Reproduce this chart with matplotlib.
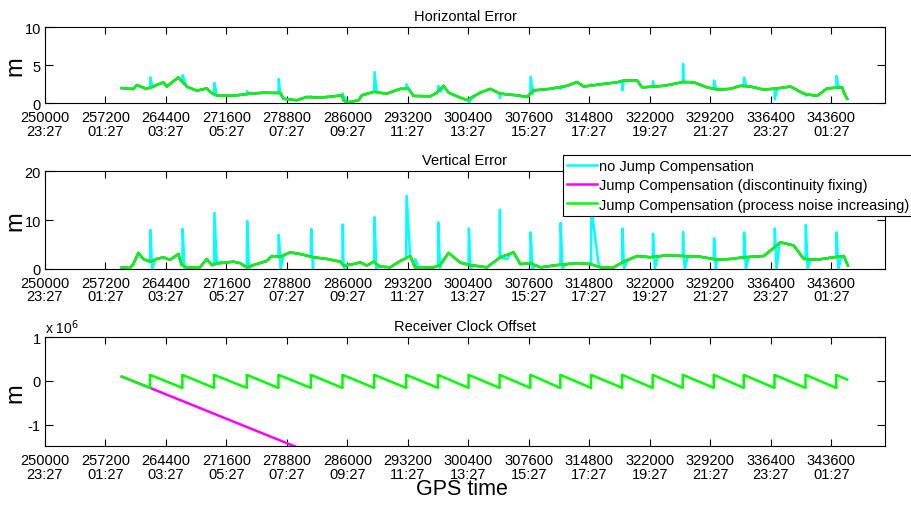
import numpy as np
import matplotlib
matplotlib.use("Agg")
import matplotlib.pyplot as plt

plt.rcParams['font.family'] = ['Liberation Sans', 'DejaVu Sans']

# x ticks (GPS seconds of week + clock time)
xtick_sec = [250000, 257200, 264400, 271600, 278800, 286000, 293200,
             300400, 307600, 314800, 322000, 329200, 336400, 343600]
xtick_clock = ['23:27', '01:27', '03:27', '05:27', '07:27', '09:27', '11:27',
               '13:27', '15:27', '17:27', '19:27', '21:27', '23:27', '01:27']

# times of the 1 ms receiver clock jumps
jump_t = [262509, 266357, 270133, 274029, 277793, 281653, 285417, 289194,
          293006, 296782, 300428, 304121, 307778, 311352, 315009, 318702,
          322347, 325921, 329614, 333188, 336845, 340538, 344196]

# Horizontal error, jump compensated (m)
hz_t = [259140, 260520, 260920, 262110, 263300, 264090, 264500, 265880, 266880,
        268070, 269260, 269660, 270450, 272430, 274420, 276010, 278000, 278390,
        279990, 281180, 282760, 284350, 285340, 285540, 285940, 287330, 287730,
        289120, 290700, 292290, 293280, 293880, 295860, 296660, 297450, 298050,
        299440, 300240, 301820, 303010, 304200, 306190, 307380, 308170, 310160,
        312150, 313340, 314130, 316120, 318100, 318900, 320490, 321080, 322470,
        323660, 326040, 327230, 328820, 330010, 331600, 332790, 333980, 335570,
        337160, 338750, 340340, 341920, 343110, 344900, 345100, 345500]
hz_err = [2.0, 1.88, 2.4, 1.9, 2.4, 2.76, 2.2, 3.4, 2.2, 1.66, 1.96, 1.5, 1.0,
          1.0, 1.26, 1.39, 1.35, 0.6, 0.4, 0.83, 0.74, 0.92, 1.05, 0.4, 0.1,
          0.4, 1.05, 1.5, 1.26, 1.9, 1.9, 0.97, 0.92, 1.39, 2.3, 1.4, 0.74,
          0.43, 1.4, 1.9, 1.26, 1.05, 0.83, 1.7, 1.9, 2.3, 2.8, 2.2, 2.5, 2.76,
          3.0, 3.0, 2.1, 2.2, 2.3, 2.8, 2.76, 2.1, 1.8, 1.9, 2.3, 2.2, 1.8, 1.96,
          2.2, 1.26, 0.97, 1.96, 2.1, 1.4, 0.6]
# no compensation: value reached right after each jump
hz_spike = [3.4, 3.7, 2.7, 1.6, 3.2, 0.9, 1.3, 4.1, 2.5, 2.3, 0.0, 0.7, 3.5,
            1.9, 2.5, 1.7, 2.9, 5.2, 3.0, 3.4, 0.5, 1.0, 3.6]

# Vertical error, jump compensated (m)
vt_t = [259140, 260130, 260520, 261120, 261710, 262510, 263300, 264090, 264890,
        265880, 266280, 266880, 268460, 269260, 269860, 270450, 272430, 273230,
        274030, 274810, 276410, 277010, 278000, 279190, 280380, 281960, 283560,
        285140, 285540, 286730, 287530, 288320, 289120, 289910, 291100, 292290,
        293480, 294070, 296260, 297050, 298050, 299440, 300630, 302620, 304200,
        305790, 306590, 307780, 308970, 310960, 313340, 314930, 316120, 317710,
        318900, 320490, 322070, 324060, 326040, 328030, 330010, 331600, 333190,
        335570, 337560, 339140, 340340, 341920, 343910, 345100, 345580]
vt_err = [0.34, 0.2, 1.0, 3.3, 2.05, 1.5, 2.05, 2.4, 1.86, 3.07, 0.8, 0.34,
          0.34, 2.05, 0.8, 1.1, 1.5, 1.2, 0.34, 0.8, 1.64, 2.65, 2.5, 3.4, 3.07,
          2.4, 2.05, 1.5, 0.7, 1.0, 1.36, 0.7, 1.5, 0.5, 0.34, 1.64, 2.65, 0.34,
          0.34, 0.8, 3.3, 1.3, 0.8, 0.34, 2.4, 3.4, 1.0, 1.2, 0.34, 0.8, 1.2,
          1.0, 0.34, 0.34, 1.5, 2.65, 2.4, 2.8, 2.65, 2.5, 1.9, 2.05, 2.4, 2.65,
          5.46, 4.8, 2.05, 1.9, 2.4, 2.65, 0.7]
vt_spike = [8.0, 8.2, 11.5, 9.8, 7.0, 8.2, 9.1, 10.6, 15.0, 9.55, 8.3, 12.1,
            7.5, 9.4, 12.5, 8.3, 7.2, 7.6, 6.3, 7.5, 8.3, 9.0, 7.5]
vt_tail = [250, 250, 800, 250, 250, 250, 250, 250, 1100, 250, 250, 900,
           250, 250, 900, 250, 250, 250, 250, 250, 250, 250, 250]
vt_trough = [0, 0, 1.5, 0, 0, 0, 0, 0, 2.0, 0, 0, 2.0,
             0, 0, 1.0, 0, 0, 0, 0, 0, 0, 0, 0]

# Receiver clock offset (m)
clk_start = (259140, 0.10e6)
clk_end = (345500, 0.03e6)
clk_low, clk_high = -0.16e6, 0.14e6
fix_t = [259140, 262510, 281000]
fix_clk = [0.10e6, -0.16e6, -1.6e6]

CYAN, MAGENTA, GREEN = '#00ffff', '#ff00ff', '#00ff00'
LW = 1.8


def spiky(t, y, peaks, tail, trough=None):
    # insert the uncompensated jumps into the compensated trace
    xs, ys = list(t), list(y)
    for i, tj in enumerate(jump_t):
        base = np.interp(tj, t, y)
        after = np.interp(tj + tail[i] + 350, t, y)
        low = base if trough is None else trough[i]
        xs += [tj, tj + 40, tj + tail[i], tj + tail[i] + 350]
        ys += [base, peaks[i], low, after]
    order = np.argsort(xs, kind='stable')
    return np.array(xs)[order], np.array(ys)[order]


def style_axis(ax, ylim, yticks, ylabels, title):
    ax.set_xlim(250000, 350000)
    ax.set_ylim(*ylim)
    ax.set_xticks(xtick_sec)
    ax.set_xticklabels([f"{s}\n{c}" for s, c in zip(xtick_sec, xtick_clock)],
                       fontsize=10.5, linespacing=0.95)
    ax.set_yticks(yticks)
    ax.set_yticklabels(ylabels, fontsize=10.5)
    ax.tick_params(direction='in', top=True, right=True, length=5, width=0.8)
    ax.tick_params(axis='x', pad=5)
    ax.tick_params(axis='y', length=6, pad=3)
    for sp in ax.spines.values():
        sp.set_linewidth(0.8)
    ax.set_title(title, fontsize=10.5, pad=5)
    # y label "m", placed in figure pixels like the original
    bb = ax.get_position()
    fig.text(15 / 912, (bb.y0 + bb.y1) / 2, 'm', rotation=90, ha='center',
             va='center', fontsize=17)


fig = plt.figure(figsize=(9.12, 5.10), dpi=100)

# Horizontal error
ax1 = fig.add_axes([0.0493, 0.7955, 0.9211, 0.149])
hx, hy = spiky(hz_t, hz_err, hz_spike, [300] * len(jump_t))
ax1.plot(hx, hy, color=CYAN, lw=LW)
ax1.plot(hz_t, hz_err, color=MAGENTA, lw=LW)
ax1.plot(hz_t, hz_err, color=GREEN, lw=LW)
style_axis(ax1, (0, 10), [0, 5, 10], ['0', '5', '10'], 'Horizontal Error')

# Vertical error
ax2 = fig.add_axes([0.0493, 0.4706, 0.9211, 0.1916])
vx, vy = spiky(vt_t, vt_err, vt_spike, vt_tail, vt_trough)
ax2.plot(vx, vy, color=CYAN, lw=LW, label='no Jump Compensation')
ax2.plot(vt_t, vt_err, color=MAGENTA, lw=LW,
         label='Jump Compensation (discontinuity fixing)')
ax2.plot(vt_t, vt_err, color=GREEN, lw=LW,
         label='Jump Compensation (process noise increasing)')
style_axis(ax2, (0, 20), [0, 10, 20], ['0', '10', '20'], 'Vertical Error')
leg = ax2.legend(loc='upper left', bbox_to_anchor=(0.6173, 0.6941),
                 bbox_transform=fig.transFigure, fontsize=10.5,
                 fancybox=False, framealpha=1, edgecolor='k',
                 handlelength=2.0, handletextpad=0.2, labelspacing=0.35,
                 borderpad=0.3, borderaxespad=0)
leg.get_frame().set_linewidth(0.8)

# Receiver clock offset
ax3 = fig.add_axes([0.0493, 0.1229, 0.9211, 0.2137])
cx = [clk_start[0]]
cy = [clk_start[1]]
for tj in jump_t:
    cx += [tj, tj]
    cy += [clk_low, clk_high]
cx.append(clk_end[0])
cy.append(clk_end[1])
ax3.plot(fix_t, fix_clk, color=MAGENTA, lw=LW)
ax3.plot(cx, cy, color=GREEN, lw=LW)
style_axis(ax3, (-1.5e6, 1e6), [-1e6, 0, 1e6], ['-1', '0', '1'],
           'Receiver Clock Offset')
ax3.text(0.0, 1.015, r'x 10$^{6}$', transform=ax3.transAxes, ha='left',
         va='bottom', fontsize=10)

fig.text(462 / 912, 1 - 490 / 510, 'GPS time', ha='center', va='center',
         fontsize=15.5)

fig.savefig('out.png', dpi=100)
